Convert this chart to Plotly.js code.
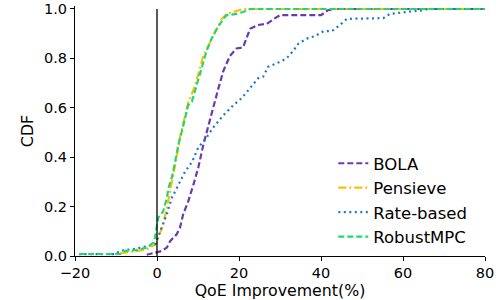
<!DOCTYPE html>
<html><head><meta charset="utf-8">
<script src="https://cdn.plot.ly/plotly-3.0.1.min.js"></script>
<style>html,body{margin:0;padding:0;background:#fff}#chart{width:500px;height:300px}</style>
</head><body><div id="chart"></div>
<script>
const seriesNames = ["BOLA", "Pensieve", "Rate-based", "RobustMPC"];

const bolaX = [-2.5, -0.5, 1.1, 2.4, 3.2, 4.8, 5.6, 6.4, 7.6, 8.9, 10.1, 11.3, 12.5, 13.7, 15.0, 16.2, 17.8, 19.4, 21.0, 22.2, 22.7, 24.6, 26.8, 28.5, 30, 37.3, 40, 41.7, 43, 80];
const bolaY = [0.005, 0.013, 0.02, 0.034, 0.06, 0.088, 0.114, 0.17, 0.22, 0.29, 0.36, 0.45, 0.52, 0.60, 0.68, 0.75, 0.81, 0.84, 0.845, 0.90, 0.92, 0.935, 0.94, 0.96, 0.975, 0.975, 0.975, 0.995, 1.0, 1.0];

const pensieveX = [-9, -7.8, -6.2, -2.5, -0.1, 0.7, 1.5, 2.4, 3.2, 4.0, 4.8, 5.6, 6.4, 7.6, 9.3, 10.5, 11.3, 12.5, 13.7, 15.0, 15.8, 17.0, 19, 21, 80];
const pensieveY = [0.01, 0.013, 0.02, 0.027, 0.05, 0.087, 0.13, 0.195, 0.26, 0.33, 0.40, 0.48, 0.54, 0.62, 0.69, 0.76, 0.81, 0.85, 0.89, 0.93, 0.96, 0.98, 0.99, 1.0, 1.0];

const rateX = [-19, -10, -9.4, -8.2, -5, -2.1, -0.5, 0.1, 1.1, 2.4, 3.6, 5.2, 6.8, 8.5, 10.1, 12.1, 13.7, 16.2, 18.6, 20.7, 21.9, 23.1, 24.7, 25.9, 27.1, 29.2, 31.6, 33.2, 34.5, 36.5, 38.5, 40.6, 42.6, 44.6, 46.3, 55.2, 56.8, 60.9, 65, 66, 80];
const rateY = [0.007, 0.008, 0.017, 0.023, 0.03, 0.04, 0.047, 0.07, 0.114, 0.17, 0.235, 0.29, 0.34, 0.38, 0.44, 0.48, 0.52, 0.57, 0.61, 0.64, 0.665, 0.69, 0.72, 0.726, 0.766, 0.78, 0.80, 0.83, 0.86, 0.88, 0.89, 0.91, 0.91, 0.935, 0.96, 0.963, 0.98, 0.988, 0.995, 1.0, 1.0];

const mpcX = [-19, -9, -8.2, -5, -2.5, -0.9, -0.5, 0.3, 1.5, 2.4, 2.8, 3.6, 4.4, 5.2, 6.0, 6.8, 7.6, 8.5, 9.7, 10.9, 12.1, 13.3, 14.6, 16.2, 17.0, 19.4, 21, 22.7, 80];
const mpcY = [0.008, 0.008, 0.02, 0.024, 0.034, 0.054, 0.074, 0.155, 0.18, 0.235, 0.275, 0.316, 0.38, 0.45, 0.50, 0.56, 0.61, 0.625, 0.69, 0.76, 0.83, 0.88, 0.92, 0.96, 0.975, 0.98, 0.988, 1.0, 1.0];

const xTicks = [-20, 0, 20, 40, 60, 80];
const yTicks = [0, 0.2, 0.4, 0.6, 0.8, 1.0];

const colors = ["#6a3aae", "#ffbf00", "#1a78c8", "#20d870"];
const dashes = ["6px,3px", "8px,3px,2px,3px", "2px,3.5px", "6px,3px"];
const xs = [bolaX, pensieveX, rateX, mpcX];
const ys = [bolaY, pensieveY, rateY, mpcY];

const traces = seriesNames.map((n, i) => ({
  x: xs[i], y: ys[i], name: n, type: "scatter", mode: "lines",
  line: {color: colors[i], width: 2.2, dash: dashes[i]}
}));

const tickFont = {family: "DejaVu Sans", size: 14.5, color: "#000"};
const titleFont = {family: "DejaVu Sans", size: 15.8, color: "#000"};
const layout = {
  width: 500, height: 300,
  margin: {l: 75, r: 15, t: 6, b: 44},
  paper_bgcolor: "#fff", plot_bgcolor: "#fff",
  font: tickFont,
  showlegend: true,
  legend: {x: 0.63, y: 0.44, xanchor: "left", yanchor: "top", font: {family: "DejaVu Sans", size: 16.5, color: "#000"}, bgcolor: "rgba(255,255,255,0)", tracegroupgap: 0},
  xaxis: {
    range: [-20, 80], tickvals: xTicks, ticks: "outside", ticklen: 4, tickcolor: "#000",
    showline: true, linecolor: "#000", linewidth: 1, showgrid: false, zeroline: false,
    ticklabeloverflow: "allow",
    title: {text: "QoE Improvement(%)", font: titleFont, standoff: 5}, tickfont: tickFont
  },
  yaxis: {
    range: [0, 1.0121], tickvals: yTicks, tickformat: ".1f", ticks: "outside", ticklen: 4, tickcolor: "#000",
    showline: true, linecolor: "#000", linewidth: 1, showgrid: false, zeroline: false,
    ticklabeloverflow: "allow",
    title: {text: "CDF", font: titleFont, standoff: 6}, tickfont: tickFont
  },
  shapes: [{type: "line", xref: "x", yref: "y", x0: 0, x1: 0, y0: 0, y1: 1, line: {color: "#000", width: 1.3}}]
};
Plotly.newPlot("chart", traces, layout, {displayModeBar: false, staticPlot: true});
</script></body></html>
